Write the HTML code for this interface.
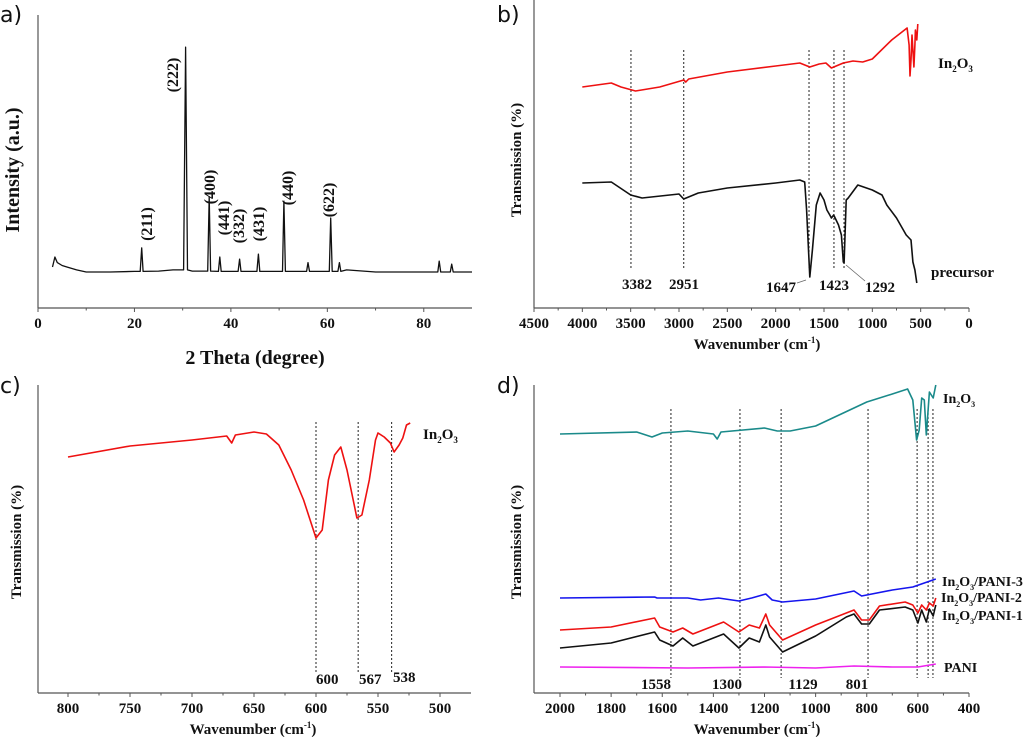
<!DOCTYPE html>
<html><head><meta charset="utf-8"><style>
html,body{margin:0;padding:0;background:#fff;}
svg{display:block;}
text{font-family:"Liberation Serif",serif;font-weight:bold;fill:#111;}
.pl{font-family:"DejaVu Sans","Liberation Sans",sans-serif;font-weight:normal;font-size:22px;}
.ann{font-size:15px;}
</style></head><body>
<svg id="fig" width="1024" height="737" viewBox="0 0 1024 737" xmlns="http://www.w3.org/2000/svg">
<text class="pl" x="0" y="22">a)</text>
<text class="pl" x="497" y="22">b)</text>
<text class="pl" x="0" y="393">c)</text>
<text class="pl" x="497" y="393">d)</text>

<text x="255" y="364" font-size="20" text-anchor="middle">2 Theta (degree)</text>
<text transform="translate(19,170) rotate(-90)" font-size="20" text-anchor="middle">Intensity (a.u.)</text>
<g id="alabels" font-size="16">
<text transform="translate(152,224) rotate(-90)" text-anchor="middle">(211)</text>
<text transform="translate(178,75) rotate(-90)" text-anchor="middle">(222)</text>
<text transform="translate(215,187) rotate(-90)" text-anchor="middle">(400)</text>
<text transform="translate(229,218) rotate(-90)" text-anchor="middle">(441)</text>
<text transform="translate(244,226) rotate(-90)" text-anchor="middle">(332)</text>
<text transform="translate(264,224) rotate(-90)" text-anchor="middle">(431)</text>
<text transform="translate(293,188) rotate(-90)" text-anchor="middle">(440)</text>
<text transform="translate(334,200) rotate(-90)" text-anchor="middle">(622)</text>
</g>

<text x="757" y="349" font-size="15" text-anchor="middle">Wavenumber (cm<tspan dy="-6" font-size="9">-1</tspan><tspan dy="6">)</tspan></text>
<text transform="translate(521,160) rotate(-90)" font-size="15" text-anchor="middle">Transmission (%)</text>
<text x="938" y="68" font-size="15">In<tspan dy="4" font-size="9">2</tspan><tspan dy="-4">O</tspan><tspan dy="4" font-size="9">3</tspan></text>
<text x="931" y="277" font-size="15">precursor</text>
<text x="637" y="289" class="ann" text-anchor="middle">3382</text>
<text x="684" y="289" class="ann" text-anchor="middle">2951</text>
<text x="781" y="292" class="ann" text-anchor="middle">1647</text>
<text x="834" y="290" class="ann" text-anchor="middle">1423</text>
<text x="880" y="292" class="ann" text-anchor="middle">1292</text>
<line x1="797" y1="283" x2="806" y2="280" stroke="#666" stroke-width="0.8"/>
<line x1="865" y1="281" x2="846" y2="265" stroke="#666" stroke-width="0.8"/>

<text x="253" y="734" font-size="15" text-anchor="middle">Wavenumber (cm<tspan dy="-6" font-size="9">-1</tspan><tspan dy="6">)</tspan></text>
<text transform="translate(21,542) rotate(-90)" font-size="15" text-anchor="middle">Transmission (%)</text>
<text x="423" y="439" font-size="15">In<tspan dy="4" font-size="9">2</tspan><tspan dy="-4">O</tspan><tspan dy="4" font-size="9">3</tspan></text>
<text x="316" y="684" class="ann">600</text>
<text x="359" y="684" class="ann">567</text>
<text x="393" y="682" class="ann">538</text>

<text x="757" y="734" font-size="15" text-anchor="middle">Wavenumber (cm<tspan dy="-6" font-size="9">-1</tspan><tspan dy="6">)</tspan></text>
<text transform="translate(521,542) rotate(-90)" font-size="15" text-anchor="middle">Transmission (%)</text>
<text x="943" y="403" font-size="14">In<tspan dy="4" font-size="8">2</tspan><tspan dy="-4">O</tspan><tspan dy="4" font-size="8">3</tspan></text>
<text x="942" y="586" font-size="14">In<tspan dy="4" font-size="8">2</tspan><tspan dy="-4">O</tspan><tspan dy="4" font-size="8">3</tspan><tspan dy="-4">/PANI-3</tspan></text>
<text x="941" y="602" font-size="14">In<tspan dy="4" font-size="8">2</tspan><tspan dy="-4">O</tspan><tspan dy="4" font-size="8">3</tspan><tspan dy="-4">/PANI-2</tspan></text>
<text x="942" y="620" font-size="14">In<tspan dy="4" font-size="8">2</tspan><tspan dy="-4">O</tspan><tspan dy="4" font-size="8">3</tspan><tspan dy="-4">/PANI-1</tspan></text>
<text x="944" y="672" font-size="14">PANI</text>
<text x="656" y="689" class="ann" text-anchor="middle">1558</text>
<text x="727" y="689" class="ann" text-anchor="middle">1300</text>
<text x="803" y="689" class="ann" text-anchor="middle">1129</text>
<text x="857" y="689" class="ann" text-anchor="middle">801</text>
</svg>
<script>
// ---- panel a (XRD) ----
const aTicks = [0,20,40,60,80];
const aTheta = [3,3.5,4,5,6,8,10,15,20,21.2,21.5,21.8,25,28,30.2,30.6,31.0,32,35.2,35.5,35.8,37.4,37.7,38,41.5,41.8,42.1,45.4,45.7,46,50.7,51,51.3,55.7,56,56.3,60.4,60.7,61,62.2,62.5,62.8,64,70,75,82.9,83.2,83.5,85.5,85.8,86.1,90];
const aInt =   [14,17.4,15.5,14.5,14,13,12.3,12.3,12.5,12.5,20.5,12.5,12.6,13,13,89,13,12.6,12.6,38,12.6,12.5,17.4,12.5,12.5,16.7,12.5,12.5,18.4,12.5,12.5,36.5,12.5,12.5,15.5,12.5,12.5,30.7,12.5,12.5,15.5,12.5,13,12.3,12.3,12.3,16,12.3,12.3,15,12.3,12.3];
// ---- panel b ----
const bTicks = [4500,4000,3500,3000,2500,2000,1500,1000,500,0];
const bRedW = [4000,3700,3600,3450,3200,2950,2930,2900,2500,2000,1750,1647,1550,1480,1423,1300,1200,1100,1000,800,640,620,610,600,590,570,560,555,540,530];
const bRedT = [87,83,87,91,87,80,82,79,72,66,63,67,64,63,68,63,61,62,59,40,28,45,76,60,35,67,45,30,40,24];
const bBlkW = [4000,3700,3500,3382,3000,2951,2800,2500,2000,1750,1700,1680,1647,1620,1580,1540,1500,1470,1440,1423,1400,1350,1320,1300,1292,1270,1250,1150,1000,900,850,750,650,600,580,560,540];
const bBlkT = [183,182,195,198,194,199,193,188,183,180,182,210,277,250,205,193,200,210,215,218,215,225,235,262,263,200,198,185,190,195,205,218,235,240,262,270,283];
const bMarks = [3497,2951,1655,1397,1293];
// ---- panel c ----
const cTicks = [800,750,700,650,600,550,500];
const cW = [800,750,700,672,668,665,650,640,630,620,610,600,595,590,585,580,575,570,567,563,557,552,550,545,540,537,533,530,527,524];
const cT = [457,446,440,436,443,435,432,434,445,470,500,538,530,480,455,447,470,500,518,515,480,440,433,437,443,452,445,438,425,423];
const cMarks = [600,566,539];
// ---- panel d ----
const dTicks = [2000,1800,1600,1400,1200,1000,800,600,400];
const dTealW = [2000,1700,1640,1600,1500,1400,1385,1370,1200,1150,1100,1000,900,800,700,640,620,605,595,585,575,567,555,540,530];
const dTealT = [434,432,437,433,431,434,439,432,428,431,431,426,414,402,394,389,400,440,430,398,400,435,392,398,385];
const dBlueW = [2000,1630,1620,1500,1450,1380,1300,1250,1195,1170,1129,1000,850,820,700,620,530];
const dBlueT = [598,597,598,598,600,598,601,598,594,600,602,599,591,596,590,587,579];
const dRedW = [2000,1800,1630,1610,1558,1520,1480,1360,1300,1260,1220,1195,1180,1129,1000,880,850,820,790,750,650,620,600,585,567,555,540,530];
const dRedT = [630,627,618,627,632,628,634,622,632,625,628,614,625,640,625,613,610,620,620,606,602,605,613,605,610,603,606,598];
const dBlkT = [648,643,632,640,646,638,646,634,648,638,642,625,637,652,636,617,614,624,624,610,607,610,623,610,622,609,616,605];
const dPaniW = [2000,1500,1200,1000,850,700,600,530];
const dPaniT = [667,668,667,668,666,667,667,664];
const dMarks = [1566,1296,1135,795,603,560,541];

const NS='http://www.w3.org/2000/svg';
const svg=document.getElementById('fig');
function el(tag,attrs){const e=document.createElementNS(NS,tag);for(const k in attrs)e.setAttribute(k,attrs[k]);svg.appendChild(e);return e;}
function lin(d0,d1,r0,r1){return v=>r0+(v-d0)*(r1-r0)/(d1-d0);}

function axes(p,name){
  const a=el('line',{x1:p.x0,y1:p.yb,x2:p.x1,y2:p.yb,stroke:'#555','stroke-width':1.2});
  
  
  const b=el('line',{x1:p.x0,y1:p.yt,x2:p.x0,y2:p.yb,stroke:'#555','stroke-width':1.2});
  
  
  p.ticks.forEach((t,i)=>{
    const x=p.sx(t);
    el('line',{x1:x,y1:p.yb,x2:x,y2:p.yb+4,stroke:'#555','stroke-width':1});
    if(i<p.ticks.length-1){const xm=p.sx(t+(p.ticks[1]-p.ticks[0])/2);el('line',{x1:xm,y1:p.yb,x2:xm,y2:p.yb+2.5,stroke:'#555','stroke-width':1});}
    const tx=el('text',{x:x,y:p.yb+20,'text-anchor':'middle','font-size':15});
    tx.textContent=t;
    
    
  });
}
function curve(xs,ys,sx,sy,color,name,w){
  let d='';xs.forEach((v,i)=>{d+=(i?'L':'M')+sx(v).toFixed(1)+' '+sy(ys[i]).toFixed(1);});
  const p=el('path',{d:d,fill:'none',stroke:color,'stroke-width':w||1.6,'stroke-linejoin':'round'});
  
  
}
function marks(ms,sx,y0,y1,name){
  ms.forEach(m=>{const l=el('line',{x1:sx(m),y1:y0,x2:sx(m),y2:y1,stroke:'#222','stroke-width':1,'stroke-dasharray':'2,2'});
  
  });
}
const idy=v=>v;
// a
const ax=lin(0,90,38,472), ay=lin(0,100,308,15);
axes({x0:38,x1:472,yt:15,yb:308,sx:ax,ticks:aTicks},'a');
curve(aTheta,aInt,ax,ay,'#111','xrd-pattern',1.3);
// b
const bx=lin(4500,0,534,969);
axes({x0:534,x1:969,yt:0,yb:308,sx:bx,ticks:bTicks},'b');
marks(bMarks,bx,50,270,'b-peak-marker');
curve(bRedW,bRedT,bx,idy,'#ee1111','b-in2o3-spectrum');
curve(bBlkW,bBlkT,bx,idy,'#111','b-precursor-spectrum');
// c
const cx=lin(800,500,68,440);
axes({x0:38,x1:471,yt:385,yb:693,sx:cx,ticks:cTicks},'c');
marks(cMarks,cx,422,672,'c-peak-marker');
curve(cW,cT,cx,idy,'#ee1111','c-in2o3-spectrum');
// d
const dx=lin(2000,400,560,969);
axes({x0:534,x1:969,yt:385,yb:693,sx:dx,ticks:dTicks},'d');
marks(dMarks,dx,409,678,'d-peak-marker');
curve(dTealW,dTealT,dx,idy,'#1a8a8a','d-in2o3-spectrum');
curve(dBlueW,dBlueT,dx,idy,'#1515ee','d-pani3-spectrum');
curve(dRedW,dRedT,dx,idy,'#ee1111','d-pani2-spectrum');
curve(dRedW,dBlkT,dx,idy,'#111','d-pani1-spectrum');
curve(dPaniW,dPaniT,dx,idy,'#ee22ee','d-pani-spectrum');
</script>
</body></html>
